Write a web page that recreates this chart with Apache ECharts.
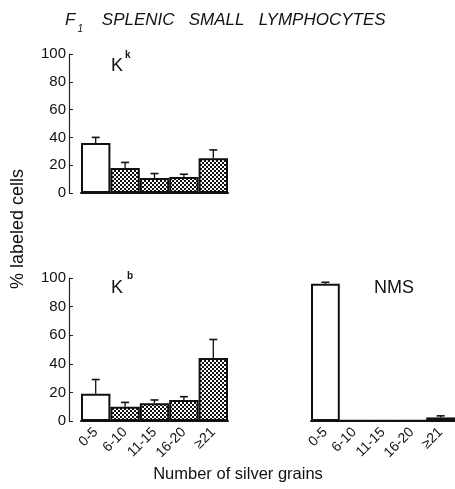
<!DOCTYPE html>
<html><head><meta charset="utf-8">
<script src="https://cdn.jsdelivr.net/npm/echarts@6/dist/echarts.min.js"></script>
<style>html,body{margin:0;padding:0;background:#fff}#c{width:455px;height:489px}</style>
</head><body><div id="c"></div>
<script>
var categories = ['0-5', '6-10', '11-15', '16-20', '≥21'];
var yTicks = [0, 20, 40, 60, 80, 100];
var kkValues = [36, 18, 10.8, 11.5, 25];
var kkUpper  = [40, 22, 14, 13.5, 31];
var kbValues = [19, 10, 12.5, 14.7, 44];
var kbUpper  = [29, 13, 14.7, 17, 57];
var nmsValues = [96, 0.3, 0.3, 0.3, 2.5];
var nmsUpper  = [97, 0.3, 0.3, 0.3, 3.6];
var panelLabels = ['K', 'K', 'NMS'];

var cv = document.createElement('canvas');
cv.width = 4; cv.height = 4;
var cx = cv.getContext('2d');
cx.fillStyle = '#fff'; cx.fillRect(0,0,4,4);
cx.fillStyle = '#111'; cx.fillRect(0,0,2,2); cx.fillRect(2,2,2,2);
var hatch = {image: cv, repeat: 'repeat'};

var font = 'Liberation Sans';
var grids = [
  {left: 81, top: 54, width: 147, height: 139},
  {left: 81, top: 278, width: 147, height: 143},
  {left: 311, top: 278, width: 147, height: 143}
];
var xAxes = [], yAxes = [], series = [];
var allVals = [kkValues, kbValues, nmsValues];
var allUp = [kkUpper, kbUpper, nmsUpper];
for (var i = 0; i < 3; i++) {
  xAxes.push({
    type: 'category', gridIndex: i, data: categories,
    axisLine: {show: true, lineStyle: {color: '#111', width: 2}},
    axisTick: {show: false},
    axisLabel: {show: i > 0, rotate: 45, fontSize: 14, color: '#111', fontFamily: font, margin: 9, interval: 0}
  });
  yAxes.push({
    type: 'value', gridIndex: i, min: 0, max: 100, interval: 20, offset: 12,
    show: i < 2,
    splitLine: {show: false},
    axisLine: {show: true, lineStyle: {color: '#222', width: 1.2}},
    axisTick: {show: true, inside: true, length: 4, lineStyle: {color: '#222'}},
    axisLabel: {fontSize: 15, color: '#111', fontFamily: font, margin: 3,
      formatter: function (v) { return yTicks.indexOf(v) >= 0 ? String(v) : ''; }}
  });
  (function (vals, ups, idx) {
    series.push({
      type: 'bar', xAxisIndex: idx, yAxisIndex: idx, barCategoryGap: '0%',
      data: vals.map(function (v, j) {
        return {value: v, itemStyle: {color: j === 0 ? '#fff' : hatch}};
      }),
      itemStyle: {borderColor: '#111', borderWidth: 2},
      silent: true, animation: false
    });
    series.push({
      type: 'custom', xAxisIndex: idx, yAxisIndex: idx, silent: true, animation: false,
      data: vals.map(function (v, j) { return [j, v, ups[j]]; }),
      renderItem: function (params, api) {
        var p0 = api.coord([api.value(0), api.value(1)]);
        var p1 = api.coord([api.value(0), api.value(2)]);
        if (p0[1] - p1[1] < 1) return null;
        return {type: 'group', children: [
          {type: 'line', shape: {x1: p0[0], y1: p0[1], x2: p1[0], y2: p1[1]}, style: {stroke: '#111', lineWidth: 1.3}},
          {type: 'line', shape: {x1: p1[0] - 4, y1: p1[1], x2: p1[0] + 4, y2: p1[1]}, style: {stroke: '#111', lineWidth: 1.6}}
        ]};
      }
    });
  })(allVals[i], allUp[i], i);
}

var chart = echarts.init(document.getElementById('c'));
chart.setOption({
  animation: false,
  backgroundColor: '#fff',
  grid: grids, xAxis: xAxes, yAxis: yAxes, series: series,
  graphic: [
    {type: 'text', left: 65, top: 12, style: {
      text: '{f|F}{s|1}    SPLENIC   SMALL   LYMPHOCYTES',
      rich: {f: {fontSize: 17, fontStyle: 'italic', fontFamily: font, fill: '#111'},
             s: {fontSize: 10, fontStyle: 'italic', fontFamily: font, fill: '#111', verticalAlign: 'bottom', padding: [0,0,-5,2]}},
      fontSize: 17, fontStyle: 'italic', fontFamily: font, fill: '#111'}},
    {type: 'text', left: 111, top: 57, style: {text: panelLabels[0], fontSize: 18, fontFamily: font, fill: '#111'}},
    {type: 'text', left: 125, top: 50, style: {text: 'k', fontSize: 10, fontFamily: font, fill: '#111', fontWeight: 'bold'}},
    {type: 'text', left: 111, top: 279, style: {text: panelLabels[1], fontSize: 18, fontFamily: font, fill: '#111'}},
    {type: 'text', left: 127, top: 271, style: {text: 'b', fontSize: 10, fontFamily: font, fill: '#111', fontWeight: 'bold'}},
    {type: 'text', left: 374, top: 279, style: {text: panelLabels[2], fontSize: 18, fontFamily: font, fill: '#111'}},
    {type: 'text', x: 18, y: 229, rotation: Math.PI / 2, style: {text: '% labeled cells', fontSize: 18, fontFamily: font, fill: '#111', align: 'center', verticalAlign: 'middle'}},
    {type: 'text', x: 238, y: 474, style: {text: 'Number of silver grains', fontSize: 16.5, fontFamily: font, fill: '#111', align: 'center', verticalAlign: 'middle'}}
  ]
});
</script></body></html>
